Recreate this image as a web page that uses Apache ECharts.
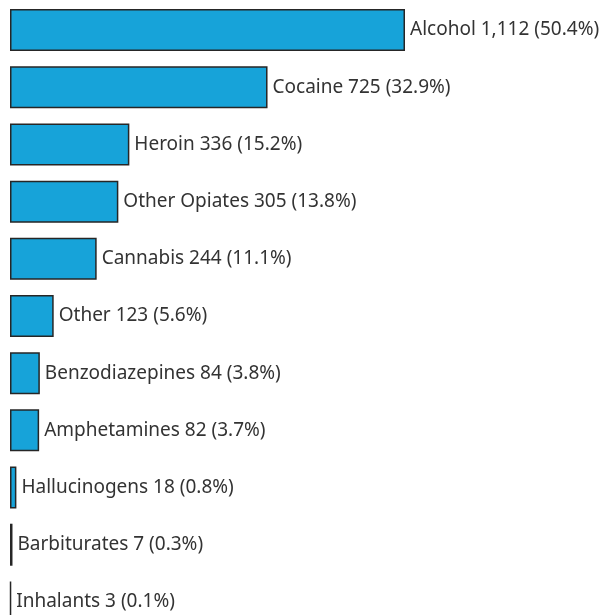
<!DOCTYPE html>
<html><head><meta charset="utf-8">
<script src="https://cdn.jsdelivr.net/npm/echarts@6/dist/echarts.min.js"></script>
<style>html,body{margin:0;padding:0;background:#fff;overflow:hidden}#c{width:607px;height:632px}</style>
</head><body><div id="c"></div>
<script>
const categories = ["Alcohol","Cocaine","Heroin","Other Opiates","Cannabis","Other","Benzodiazepines","Amphetamines","Hallucinogens","Barbiturates","Inhalants"];
const counts = [1112,725,336,305,244,123,84,82,18,7,3];
const countLabels = ["1,112","725","336","305","244","123","84","82","18","7","3"];
const percents = ["50.4%","32.9%","15.2%","13.8%","11.1%","5.6%","3.8%","3.7%","0.8%","0.3%","0.1%"];

const chart = echarts.init(document.getElementById('c'), null, {renderer:'canvas'});
chart.setOption({
  animation:false,
  grid:{left:10, top:1.5, width:395, height:629, containLabel:false},
  xAxis:{type:'value', min:0, max:1112, show:false},
  yAxis:{type:'category', data:categories, inverse:true, show:false},
  series:[{
    type:'bar',
    data:counts,
    barWidth:42,
    itemStyle:{color:'#17a3d9', borderColor:'#262626', borderWidth:1.5},
    label:{show:true, position:'right', distance:5,
      fontFamily:'Noto Sans', fontSize:19, color:'#333',
      formatter:p=>categories[p.dataIndex]+' '+countLabels[p.dataIndex]+' ('+percents[p.dataIndex]+')'}
  }]
});
</script></body></html>
